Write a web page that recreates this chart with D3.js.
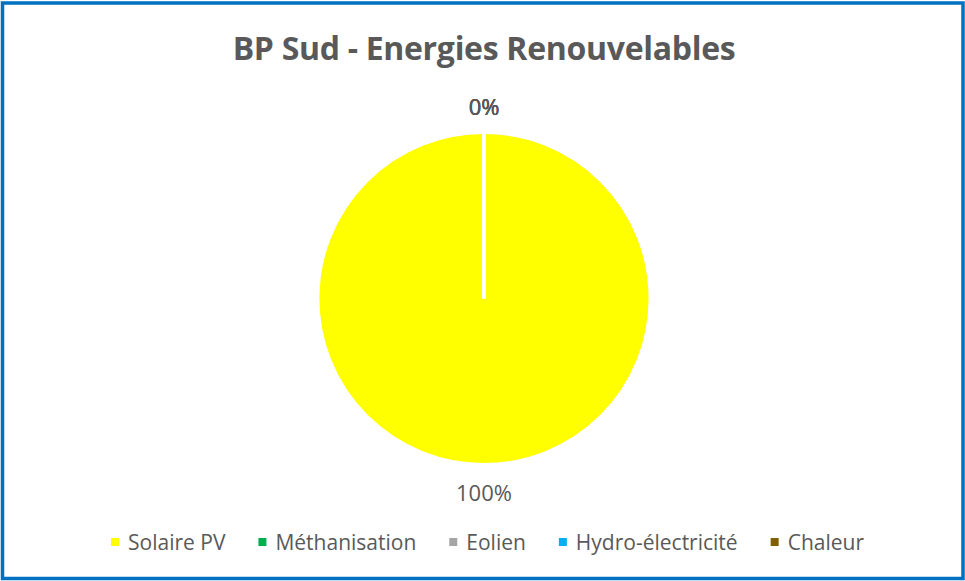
<!DOCTYPE html>
<html>
<head>
<meta charset="utf-8">
<script src="https://cdn.jsdelivr.net/npm/d3@7"></script>
<style>
  html, body { margin: 0; padding: 0; background: #fff; }
  svg { display: block; }
  text { font-family: "Open Sans", Lato, sans-serif; fill: #595959; }
</style>
</head>
<body>
<div id="chart"></div>
<script>
const title = "BP Sud - Energies Renouvelables";
const categories = ["Solaire PV", "Méthanisation", "Eolien", "Hydro-électricité", "Chaleur"];
const values = [100, 0, 0, 0, 0];
const colors = ["#FFFF00", "#00B050", "#A5A5A5", "#00B0F0", "#7F6000"];

const width = 965;
const height = 581;
const cx = 484;
const cy = 298.5;
const radius = 166;
const labelRadius = 193;

const svg = d3.select("#chart")
  .append("svg")
  .attr("width", width)
  .attr("height", height);

svg.append("rect")
  .attr("x", 2.5)
  .attr("y", 3)
  .attr("width", 960.5)
  .attr("height", 575.5)
  .attr("fill", "#fff")
  .attr("stroke", "#0070C0")
  .attr("stroke-width", 3.5);

svg.append("text")
  .attr("x", cx)
  .attr("y", 60)
  .attr("text-anchor", "middle")
  .style("font-size", "32px")
  .style("font-weight", "bold")
  .style("letter-spacing", "-0.3px")
  .text(title);

const data = categories.map((c, i) => ({ name: c, value: values[i], color: colors[i] }));
const total = d3.sum(values);
const formatPct = (v) => d3.format(".0%")(v / total);

const pie = d3.pie().sort(null).value((d) => d.value);
const arcs = pie(data);
const arc = d3.arc().innerRadius(0).outerRadius(radius);
const labelArc = d3.arc().innerRadius(labelRadius).outerRadius(labelRadius);

const g = svg.append("g").attr("transform", `translate(${cx},${cy})`);

g.selectAll(".slice")
  .data(arcs)
  .join("path")
  .attr("class", "slice")
  .attr("d", arc)
  .attr("fill", (d) => d.data.color)
  .attr("stroke", "#fff")
  .attr("stroke-width", 3);

g.selectAll(".pct")
  .data(arcs)
  .join("text")
  .attr("class", "pct")
  .attr("transform", (d) => `translate(${labelArc.centroid(d)})`)
  .attr("text-anchor", "middle")
  .attr("dominant-baseline", "central")
  .style("font-size", "22px")
  .text((d) => formatPct(d.data.value));

// legend, centred under the pie (Excel puts it a little right of centre)
const legend = svg.append("g").attr("transform", "translate(5,542)");
const sq = 8;
const gapText = 9;
const gapItem = 33;
const items = legend.selectAll(".item")
  .data(data)
  .join("g")
  .attr("class", "item");
items.append("rect")
  .attr("width", sq)
  .attr("height", sq)
  .attr("y", -sq / 2)
  .attr("fill", (d) => d.color);
items.append("text")
  .attr("x", sq + gapText)
  .attr("dominant-baseline", "central")
  .style("font-size", "21px")
  .text((d) => d.name);

let widths = [];
items.each(function () {
  widths.push(sq + gapText + d3.select(this).select("text").node().getComputedTextLength());
});
const totalW = d3.sum(widths) + gapItem * (widths.length - 1);
let x = (width - totalW) / 2;
items.attr("transform", (d, i) => {
  const t = `translate(${x},0)`;
  x += widths[i] + gapItem;
  return t;
});
</script>
</body>
</html>
